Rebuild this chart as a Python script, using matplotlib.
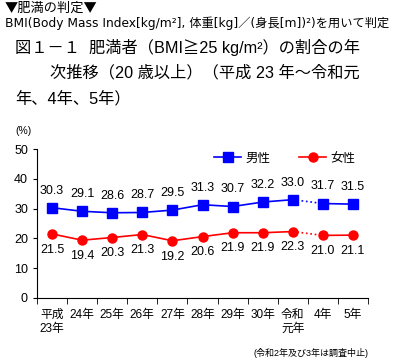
import matplotlib
matplotlib.use("Agg")
import matplotlib.pyplot as plt
import numpy as np

plt.rcParams['font.family'] = ['Liberation Sans', 'Noto Sans CJK JP', 'DejaVu Sans']

years = ["平成\n23年", "24年", "25年", "26年", "27年", "28年", "29年", "30年", "令和\n元年", "4年", "5年"]
male = [30.3, 29.1, 28.6, 28.7, 29.5, 31.3, 30.7, 32.2, 33.0, 31.7, 31.5]
female = [21.5, 19.4, 20.3, 21.3, 19.2, 20.6, 21.9, 21.9, 22.3, 21.0, 21.1]

fig = plt.figure(figsize=(4.01, 3.61), dpi=100)
ax = fig.add_axes([37/401, 63/361, 331/401, 149/361])

x = np.arange(len(years))
blue = "#0000ff"
red = "#ff0000"

# solid part up to 令和元年, dotted across the survey gap
ax.plot(x[:9], male[:9], color=blue, lw=1.2, marker="s", ms=6.5, label="男性")
ax.plot(x[8:10], male[8:10], color=blue, lw=1.2, ls=":")
ax.plot(x[9:], male[9:], color=blue, lw=1.2, marker="s", ms=6.5)
ax.plot(x[:9], female[:9], color=red, lw=1.2, marker="o", ms=6.5, label="女性")
ax.plot(x[8:10], female[8:10], color=red, lw=1.2, ls=":")
ax.plot(x[9:], female[9:], color=red, lw=1.2, marker="o", ms=6.5)

for i in x:
    ax.annotate(f"{male[i]:.1f}", (i, male[i]), xytext=(0, 8), textcoords="offset points",
                ha="center", va="bottom", fontsize=9)
    ax.annotate(f"{female[i]:.1f}", (i, female[i]), xytext=(0, -7), textcoords="offset points",
                ha="center", va="top", fontsize=9)

ax.set_xlim(-0.5, len(years) - 0.5)
ax.set_ylim(0, 50)
ax.set_yticks([0, 10, 20, 30, 40, 50])
ax.set_xticks(x)
ax.set_xticklabels(years, fontsize=8.5, linespacing=1.2, va="top")
ax.set_xticks(np.arange(-0.5, len(years)), minor=True)
ax.tick_params(axis="x", which="major", length=0, pad=8)
ax.tick_params(axis="x", which="minor", length=4, direction="out")
ax.tick_params(axis="y", labelsize=9, length=3, direction="out")
for s in ["top", "right"]:
    ax.spines[s].set_visible(False)

ax.legend(loc="upper left", bbox_to_anchor=(0.5, 1.05), ncol=2, frameon=False,
          fontsize=9, handlelength=2.2, columnspacing=2.3, handletextpad=0.3)

fig.text(15/401, 1 - 131/361, "(%)", fontsize=7.5, va="center")

fig.text(5/401, 1 - 8/361, "▼肥満の判定▼", fontsize=9.5, va="center",
         family=['Noto Sans CJK JP'])
fig.text(5/401, 1 - 23/361, "BMI(Body Mass Index[kg/m²], 体重[kg]／(身長[m])²)を用いて判定",
         fontsize=8.8, va="center", family=['DejaVu Sans', 'Noto Sans CJK JP'])
fig.text(15/401, 1 - 47/361, "図１－１  肥満者（BMI≧25 kg/m²）の割合の年", fontsize=11.7, va="center")
fig.text(50/401, 1 - 73/361, "次推移（20 歳以上）（平成 23 年～令和元", fontsize=11.7, va="center")
fig.text(15/401, 1 - 99/361, "年、4年、5年）", fontsize=11.7, va="center")

fig.text(368/401, 1 - 353/361, "(令和2年及び3年は調査中止)", fontsize=6.5, ha="right", va="center")

fig.savefig("out.png", dpi=100)
